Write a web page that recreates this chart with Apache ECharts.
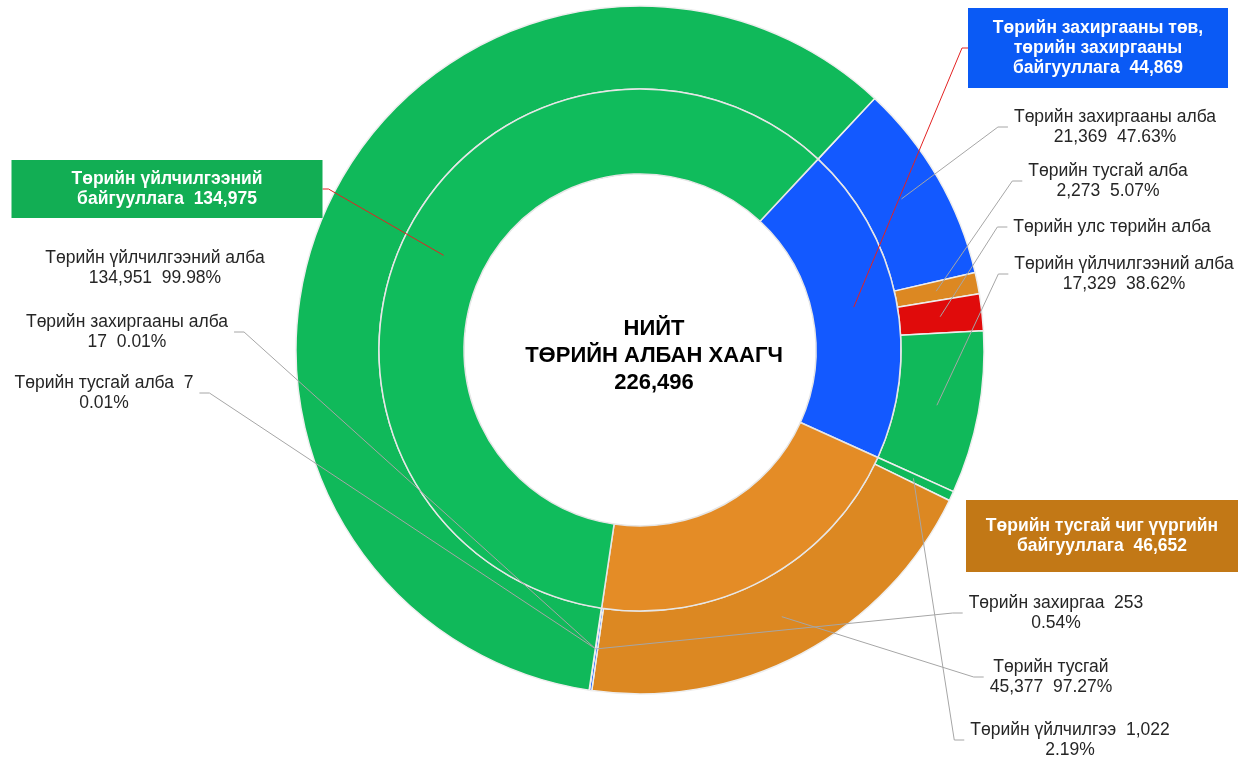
<!DOCTYPE html>
<html>
<head>
<meta charset="utf-8">
<script src="https://cdn.jsdelivr.net/npm/echarts@6.0.0/dist/echarts.min.js"></script>
<style>
  html, body { margin: 0; padding: 0; background: #fff; }
  #chart { width: 1239px; height: 757px; }
</style>
</head>
<body>
<div id="chart"></div>
<script>
// inner ring: organisation groups
const groupNames = [
  'Төрийн захиргааны төв,\nтөрийн захиргааны\nбайгууллага',
  'Төрийн тусгай чиг үүргийн\nбайгууллага',
  'Төрийн үйлчилгээний\nбайгууллага'
]
const groupValues = [44869, 46652, 134975]
const groupColors = ['#1359ff', '#e48c26', '#10bc5c']
const groupBoxColors = ['#0a5af5', '#c27816', '#12ae54']

// outer ring: civil service types inside each group
const subNames = [
  'Төрийн захиргааны алба', 'Төрийн тусгай алба', 'Төрийн улс төрийн алба', 'Төрийн үйлчилгээний алба',
  'Төрийн үйлчилгээ', 'Төрийн тусгай', 'Төрийн захиргаа',
  'Төрийн захиргааны алба', 'Төрийн тусгай алба', 'Төрийн үйлчилгээний алба'
]
const subValues = [21369, 2273, 3898, 17329, 1022, 45377, 253, 17, 7, 134951]
const subGroup = [0, 0, 0, 0, 1, 1, 1, 2, 2, 2]
const subKind = ['adm', 'spec', 'pol', 'serv', 'serv', 'spec', 'adm', 'adm', 'spec', 'serv']
// how each label is written: name / value on 2nd line, or name + value / percent
const subLabelForm = ['wrap', 'wrap', 'name', 'wrap', 'inline', 'wrap', 'inline', 'wrap', 'inline', 'wrap']

const kindColors = {adm: '#1359ff', spec: '#dc8822', pol: '#e00b0b', serv: '#10b95a'}

const totalTitle = 'НИЙТ\nТӨРИЙН АЛБАН ХААГЧ\n226,496'

// layout (not data)
const CX = 640, CY = 350
const FONT = '"Liberation Sans", Arial, sans-serif'
const innerSpots = [[1098, 48], [1102, 536], [167, 189]]
const innerLine = [true, false, true]
const outerSpots = [
  [1115, 127], [1108, 181], [1112, 227], [1124, 274],
  [1070, 740], [1051, 677], [1056, 613],
  [127, 332], [104, 393], [155, 268]
]
const outerLine = [true, true, true, true, true, true, true, true, true, false]

const fmt = v => v.toLocaleString('en-US')

function spotLayout(spots, rMid, tick) {
  return function (params) {
    const spot = spots[params.dataIndex]
    const out = {x: spot[0], y: spot[1], align: 'center', verticalAlign: 'middle'}
    const pts = params.labelLinePoints
    if (pts) {
      const w = params.labelRect.width
      const ang = Math.atan2(pts[0][1] - CY, pts[0][0] - CX)
      const start = [CX + rMid * Math.cos(ang), CY + rMid * Math.sin(ang)]
      const onRight = spot[0] > CX
      const endX = onRight ? spot[0] - w / 2 - tick[0] : spot[0] + w / 2 + tick[0]
      const bendX = onRight ? endX - tick[1] : endX + tick[1]
      out.labelLinePoints = [start, [bendX, spot[1]], [endX, spot[1]]]
    }
    return out
  }
}

const chart = echarts.init(document.getElementById('chart'))

const innerData = groupValues.map((v, i) => ({
  name: groupNames[i],
  value: v,
  itemStyle: {color: groupColors[i]}
}))
const outerData = subValues.map((v, i) => ({
  name: subNames[i],
  value: v,
  itemStyle: {color: kindColors[subKind[i]]}
}))

// label carriers: same slices, invisible, drawn above both rings so the leader lines show
const clear = {color: 'rgba(0,0,0,0)', borderWidth: 0}
const innerLabelData = groupValues.map((v, i) => ({
  name: groupNames[i],
  value: v,
  itemStyle: clear,
  labelLine: {show: innerLine[i]},
  label: {backgroundColor: groupBoxColors[i]}
}))
innerLabelData[0].label.width = 240
innerLabelData[0].label.padding = [10, 10]
innerLabelData[1].label.width = 252
innerLabelData[1].label.padding = [16, 10]
innerLabelData[2].label.width = 291
innerLabelData[2].label.padding = [9, 10]

const outerLabelData = subValues.map((v, i) => ({
  name: subNames[i],
  value: v,
  itemStyle: clear,
  labelLine: {show: outerLine[i]}
}))

const ring = {
  type: 'pie',
  center: [CX, CY],
  startAngle: 47,
  clockwise: true,
  avoidLabelOverlap: false,
  emphasis: {disabled: true},
  silent: true
}

chart.setOption({
  animation: false,
  graphic: [{
    type: 'text',
    x: 654,
    y: 356,
    z: 10,
    style: {
      text: totalTitle,
      align: 'center',
      verticalAlign: 'middle',
      font: 'bold 22px ' + FONT,
      lineHeight: 27,
      fill: '#000'
    }
  }],
  series: [
    Object.assign({}, ring, {
      name: 'outer',
      z: 2,
      radius: [261, 344],
      itemStyle: {borderColor: '#eeeeee', borderWidth: 1.5},
      label: {show: false},
      labelLine: {show: false},
      data: outerData
    }),
    Object.assign({}, ring, {
      name: 'inner',
      z: 2,
      radius: [176, 261],
      itemStyle: {borderColor: '#e6e6e6', borderWidth: 1.5},
      label: {show: false},
      labelLine: {show: false},
      data: innerData
    }),
    Object.assign({}, ring, {
      name: 'outer labels',
      z: 5,
      radius: [261, 344],
      label: {
        position: 'outside',
        fontFamily: FONT,
        fontSize: 17.5,
        lineHeight: 20,
        color: '#262626',
        formatter: p => {
          const i = p.dataIndex
          const pct = (subValues[i] / groupValues[subGroup[i]] * 100).toFixed(2) + '%'
          if (subLabelForm[i] === 'name') return subNames[i]
          if (subLabelForm[i] === 'inline') return subNames[i] + '  ' + fmt(subValues[i]) + '\n' + pct
          return subNames[i] + '\n' + fmt(subValues[i]) + '  ' + pct
        }
      },
      labelLine: {length: 10, length2: 10, lineStyle: {color: '#a6a6a6', width: 1}},
      labelLayout: spotLayout(outerSpots, 302, [6, 10]),
      data: outerLabelData
    }),
    Object.assign({}, ring, {
      name: 'inner labels',
      z: 6,
      radius: [176, 261],
      label: {
        position: 'outside',
        fontFamily: FONT,
        fontSize: 17.5,
        fontWeight: 'bold',
        lineHeight: 20,
        color: '#fff',
        align: 'center',
        formatter: p => groupNames[p.dataIndex] + '  ' + fmt(groupValues[p.dataIndex])
      },
      labelLine: {length: 10, length2: 10, lineStyle: {color: '#e32222', width: 1}},
      labelLayout: spotLayout(innerSpots, 218, [0, 6]),
      data: innerLabelData
    })
  ]
})
</script>
</body>
</html>
